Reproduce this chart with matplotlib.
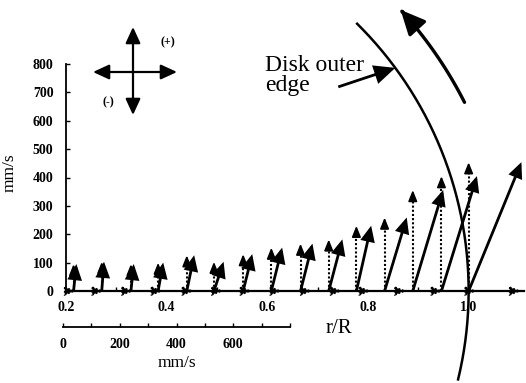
import numpy as np
import matplotlib
matplotlib.use("Agg")
import matplotlib.pyplot as plt
from matplotlib.patches import FancyArrowPatch
from matplotlib.path import Path

# ---------------- data ----------------
r_pos = [0.215, 0.271, 0.329, 0.383, 0.440, 0.494, 0.552, 0.608,
         0.666, 0.722, 0.777, 0.833, 0.889, 0.946, 1.000]
u_radial = [10, 8, 10, 18, 26, 34, 32, 38, 42, 48, 52, 78, 107, 125, 186]      # mm/s
v_tangential = [95, 103, 95, 100, 126, 103, 130, 153, 167, 182, 230, 259,
                356, 405, 454]                                                 # mm/s
x_ticks = [0.2, 0.4, 0.6, 0.8, 1.0]
x_tick_labels = ["0.2", "0.4", "0.6", "0.8", "1.0"]
x_minor = [0.3, 0.5, 0.7, 0.9]
y_ticks = list(range(0, 801, 100))
scale_ticks = list(range(0, 801, 100))
scale_labels = ["0", "", "200", "", "400", "", "600", "", ""]

SERIF = ["Liberation Serif", "DejaVu Serif"]
plt.rcParams["font.family"] = SERIF

W, H = 526, 383
fig = plt.figure(figsize=(W / 100, H / 100), dpi=100)
ax = fig.add_axes([66 / W, 1 - 291 / H, (524 - 66) / W, (291 - 64) / H])
ax.set_xlim(0.2, 1.11)
ax.set_ylim(0, 800)
ax.patch.set_alpha(0)
for s in ("top", "right"):
    ax.spines[s].set_visible(False)
ax.spines["left"].set_linewidth(1.3)
ax.spines["bottom"].set_linewidth(1.6)

ax.set_xticks(x_ticks)
ax.set_xticklabels(x_tick_labels, fontsize=10, fontweight="bold")
ax.set_xticks(x_minor, minor=True)
ax.tick_params(axis="x", which="major", length=0, pad=7)
ax.tick_params(axis="x", which="minor", direction="in", length=3, width=1)
ax.set_yticks(y_ticks)
ax.set_yticklabels([str(t) for t in y_ticks], fontsize=10, fontweight="bold")
ax.tick_params(axis="y", direction="in", length=3, width=1, pad=9)

ax.set_ylabel("mm/s", fontsize=12.5)
ax.yaxis.set_label_coords(-0.105, 0.52)
ax.text(0.595, -0.165, "r/R", transform=ax.transAxes, fontsize=15,
        ha="center", va="center")

# ---------------- vectors (equal pixel scale in mm/s both ways) ----------------
fig.canvas.draw()
p0 = ax.transData.transform((0.2, 0))
p1 = ax.transData.transform((1.0, 800))
px_per_r = (p1[0] - p0[0]) / 0.8
px_per_mms = (p1[1] - p0[1]) / 800.0
kx = px_per_mms / px_per_r        # r/R units per mm/s on screen


def arrow(a, b, style, ms, lw, ls="-", fc="black", z=3):
    p = FancyArrowPatch(a, b, arrowstyle=style, mutation_scale=ms, lw=lw,
                        linestyle=ls, color="black", facecolor=fc,
                        shrinkA=0, shrinkB=0, clip_on=False, zorder=z,
                        joinstyle="miter", capstyle="butt")
    ax.add_patch(p)


HEAD_PX = 7.0          # length of the open head on dotted arrows
head_mms = HEAD_PX / px_per_mms

for r, u, v in zip(r_pos, u_radial, v_tangential):
    dx = u * kx
    # radial component (dotted, along the axis)
    arrow((r, 0), (r + dx, 0), "-|>,head_length=0.55,head_width=0.22", 12,
          1.3, ls=(0, (1, 1)), z=3)
    # tangential component: dotted shaft + open head
    ax.plot([r, r], [0, v - head_mms], color="black", lw=1.5,
            linestyle=(0, (1, 1)), clip_on=False, zorder=3)
    arrow((r, v - head_mms), (r, v), "-|>,head_length=0.5,head_width=0.2",
          14, 1.0, fc="white", z=3)
    # resultant (solid)
    arrow((r, 0), (r + dx, v), "-|>,head_length=0.55,head_width=0.25", 15,
          2.0, z=4)

# ---------------- disk outer edge & rotation arrow ----------------
inv = ax.transData.inverted()
anchor = ax.transData.transform((1.0, 0))
EDGE_R = 376.0
center = anchor - np.array([EDGE_R, 0.0])
t = np.radians(np.linspace(-13.6, 45.3, 200))
edge_disp = np.column_stack([center[0] + EDGE_R * np.cos(t),
                             center[1] + EDGE_R * np.sin(t)])
edge = inv.transform(edge_disp)
ax.plot(edge[:, 0], edge[:, 1], color="black", lw=1.8, clip_on=False, zorder=5)

ROT_R = 417.0
t2 = np.radians(np.linspace(26.9, 42.4, 60))
rot_disp = np.column_stack([center[0] + ROT_R * np.cos(t2),
                            center[1] + ROT_R * np.sin(t2)])
rot = inv.transform(rot_disp)
rot_arrow = FancyArrowPatch(path=Path(rot),
                            arrowstyle="-|>,head_length=0.75,head_width=0.35",
                            mutation_scale=20, lw=2.4, color="black",
                            transform=ax.transData, clip_on=False, zorder=5)
ax.add_patch(rot_arrow)

# pointer to the edge
ang = np.radians(36.4)
tip_disp = center + EDGE_R * np.array([np.cos(ang), np.sin(ang)])
tail_disp = tip_disp + np.array([-57.0, -19.0])
tip_d, tail_d = inv.transform([tip_disp, tail_disp])
arrow(tuple(tail_d), tuple(tip_d), "-|>,head_length=0.7,head_width=0.32", 17,
      2.0, z=5)

fig.text(265 / W, 1 - 71 / H, "Disk outer", fontsize=17, va="baseline",
         ha="left")
fig.text(265 / W, 1 - 91 / H, "edge", fontsize=17, va="baseline", ha="left")

# ---------------- direction compass ----------------
def fpt(x, y):
    return (x / W, 1 - y / H)


for a, b in [((133, 115), (133, 27)), ((93, 72), (177, 72))]:
    fa = FancyArrowPatch(fpt(*a), fpt(*b),
                         arrowstyle="<|-|>,head_length=0.65,head_width=0.3",
                         mutation_scale=15, lw=1.6, color="black",
                         transform=fig.transFigure, shrinkA=0, shrinkB=0)
    fig.add_artist(fa)
fig.text(*fpt(168, 42), "(+)", fontsize=8.5, ha="center", va="center",
         fontweight="bold")
fig.text(*fpt(108, 102), "(-)", fontsize=8.5, ha="center", va="center",
         fontweight="bold")

# ---------------- mm/s scale bar ----------------
bar_w_px = 800 * px_per_mms
ax2 = fig.add_axes([63 / W, 1 - 327 / H, bar_w_px / W, 0.01])
ax2.set_xlim(0, 800)
ax2.patch.set_alpha(0)
for s in ("top", "right", "left"):
    ax2.spines[s].set_visible(False)
ax2.spines["bottom"].set_linewidth(1.3)
ax2.set_yticks([])
ax2.set_xticks(scale_ticks)
ax2.set_xticklabels(scale_labels, fontsize=10, fontweight="bold")
ax2.tick_params(axis="x", direction="in", length=3, width=1, pad=8)
ax2.set_xlabel("mm/s", fontsize=12.5, labelpad=3)

fig.savefig("out.png", dpi=100)
